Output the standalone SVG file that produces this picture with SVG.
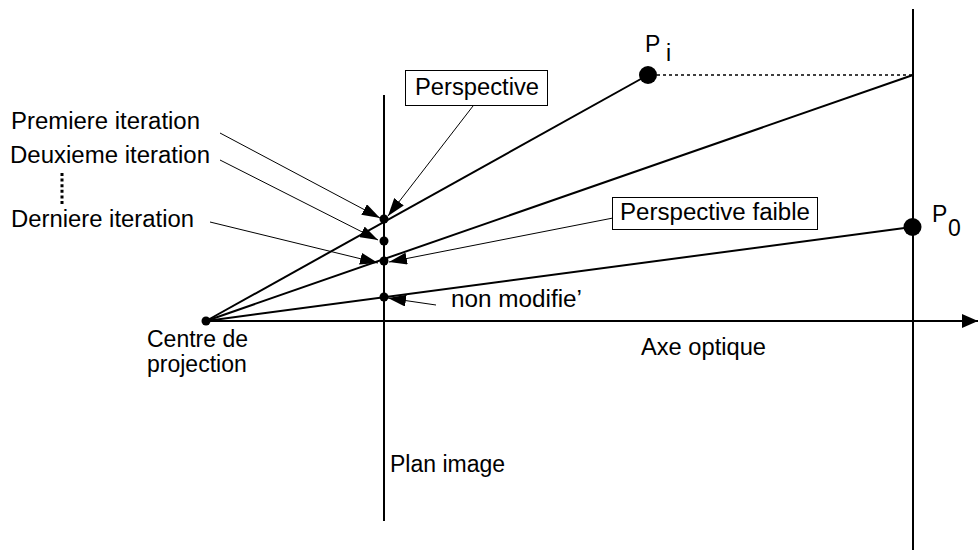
<svg xmlns="http://www.w3.org/2000/svg" width="979" height="558" viewBox="0 0 979 558">
<style>
text{font-family:"Liberation Sans",Arial,sans-serif;font-size:23px;fill:#000}
.main{stroke:#000;stroke-width:2;fill:none}
.thin{stroke:#000;stroke-width:1;fill:none}
.box{fill:#fff;stroke:#000;stroke-width:1}
</style>
<defs>
<marker id="ah" markerUnits="userSpaceOnUse" markerWidth="19" markerHeight="12" refX="18" refY="6" orient="auto">
<path d="M0,0 L18,6 L0,12 z" fill="#000"/>
</marker>
<marker id="ahAxis" markerUnits="userSpaceOnUse" markerWidth="17" markerHeight="14" refX="16" refY="7" orient="auto">
<path d="M0,0 L16,7 L0,14 z" fill="#000"/>
</marker>
</defs>
<rect width="979" height="558" fill="#fff"/>
<g id="connectors">
<line class="main" x1="206" y1="321" x2="962" y2="321"/>
<line class="main" x1="962" y1="321" x2="978" y2="321" marker-end="url(#ahAxis)"/>
<line class="main" x1="384" y1="95" x2="384" y2="521"/>
<line class="main" x1="913" y1="9" x2="913" y2="550"/>
<line class="main" x1="206" y1="321" x2="648" y2="75"/>
<line class="main" x1="206" y1="321" x2="913" y2="75"/>
<line class="main" x1="206" y1="321" x2="912" y2="227"/>
<line stroke="#000" stroke-width="1.5" stroke-dasharray="3,3" x1="657" y1="75" x2="913" y2="75"/>
<line stroke="#000" stroke-width="3" stroke-dasharray="3,2.6" x1="62" y1="173" x2="62" y2="204"/>
<line class="thin" x1="220" y1="133" x2="380" y2="218" marker-end="url(#ah)"/>
<line class="thin" x1="220" y1="160" x2="378" y2="240" marker-end="url(#ah)"/>
<line class="thin" x1="210" y1="222" x2="378" y2="263" marker-end="url(#ah)"/>
<line class="thin" x1="473" y1="106" x2="388" y2="216" marker-end="url(#ah)"/>
<line class="thin" x1="613" y1="218" x2="389" y2="262" marker-end="url(#ah)"/>
<line class="thin" x1="436" y1="305" x2="388" y2="298" marker-end="url(#ah)"/>
</g>
<g id="centre">
<circle cx="206" cy="321" r="4.5"/>
<text x="147" y="347">Centre de</text>
<text x="147" y="372">projection</text>
</g>
<g id="pt-premiere"><circle cx="384" cy="219" r="4.5"/></g>
<g id="pt-deuxieme"><circle cx="384" cy="241" r="4.5"/></g>
<g id="pt-derniere"><circle cx="384" cy="261" r="4.5"/></g>
<g id="pt-nonmodifie"><circle cx="384" cy="297" r="4.5"/></g>
<g id="Pi">
<circle cx="648" cy="75" r="9"/>
<text x="645" y="52">P</text>
<text x="666" y="61">i</text>
</g>
<g id="P0">
<circle cx="912.5" cy="227" r="9"/>
<text x="932" y="222">P</text>
<text x="948" y="236">0</text>
</g>
<g id="label-premiere"><text x="11" y="129" textLength="189" lengthAdjust="spacingAndGlyphs">Premiere iteration</text></g>
<g id="label-deuxieme"><text x="10" y="163" textLength="200" lengthAdjust="spacingAndGlyphs">Deuxieme iteration</text></g>
<g id="label-derniere"><text x="11" y="227" textLength="183" lengthAdjust="spacingAndGlyphs">Derniere iteration</text></g>
<g id="label-perspective">
<rect class="box" x="405.5" y="70.5" width="142" height="35"/>
<text x="415" y="95" textLength="124" lengthAdjust="spacingAndGlyphs">Perspective</text>
</g>
<g id="label-faible">
<rect class="box" x="612.5" y="197.5" width="205" height="32"/>
<text x="620" y="220" textLength="190" lengthAdjust="spacingAndGlyphs">Perspective faible</text>
</g>
<g id="label-nonmodifie"><text x="451" y="307" textLength="131" lengthAdjust="spacingAndGlyphs">non modifie’</text></g>
<g id="label-axe"><text x="641" y="355" textLength="125" lengthAdjust="spacingAndGlyphs">Axe optique</text></g>
<g id="label-plan"><text x="390" y="472">Plan image</text></g>
</svg>
